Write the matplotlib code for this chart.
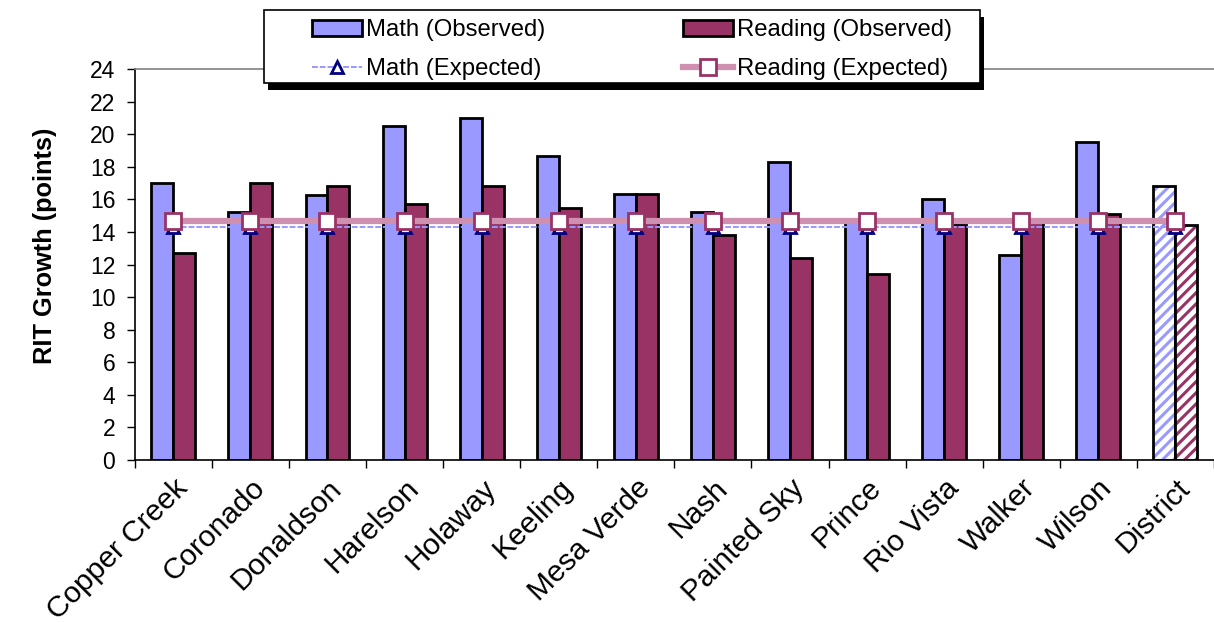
import matplotlib.pyplot as plt
import numpy as np
from matplotlib.patches import Rectangle

plt.rcParams['font.family'] = ['Liberation Sans', 'DejaVu Sans']
plt.rcParams['hatch.linewidth'] = 2.2

# RIT growth by school
schools = ['Copper Creek', 'Coronado', 'Donaldson', 'Harelson', 'Holaway', 'Keeling',
           'Mesa Verde', 'Nash', 'Painted Sky', 'Prince', 'Rio Vista', 'Walker',
           'Wilson', 'District']
math_obs = [17.0, 15.2, 16.25, 20.5, 21.0, 18.65, 16.3, 15.2, 18.3, 14.7, 16.0, 12.6, 19.5, 16.8]
read_obs = [12.7, 17.0, 16.8, 15.7, 16.8, 15.5, 16.3, 13.8, 12.4, 11.4, 14.5, 14.8, 15.1, 14.4]
math_exp = [14.3] * 14
read_exp = [14.7] * 14

math_col = '#9999ff'
read_col = '#993366'

fig = plt.figure(figsize=(12.14, 6.23), dpi=100)
ax = fig.add_axes([0.111, 0.2616, 0.889, 0.6276])

x = np.arange(len(schools))
w = 0.285
n = len(schools) - 1  # last group (District) is hatched

ax.bar(x[:n] - w / 2, math_obs[:n], w, color=math_col, edgecolor='black', linewidth=2,
       label='Math (Observed)', zorder=2)
ax.bar(x[:n] + w / 2, read_obs[:n], w, color=read_col, edgecolor='black', linewidth=2,
       label='Reading (Observed)', zorder=2)

# District bars: coloured stripes on white, black outline
ax.bar(x[n] - w / 2, math_obs[n], w, color='white', edgecolor=math_col, hatch='///',
       linewidth=0, zorder=2)
ax.bar(x[n] - w / 2, math_obs[n], w, fill=False, edgecolor='black', linewidth=2, zorder=2)
ax.bar(x[n] + w / 2, read_obs[n], w, color='white', edgecolor=read_col, hatch='///',
       linewidth=0, zorder=2)
ax.bar(x[n] + w / 2, read_obs[n], w, fill=False, edgecolor='black', linewidth=2, zorder=2)

ax.plot(x, math_exp, color='#9999ff', linestyle=(0, (3, 1)), linewidth=1.4,
        marker='^', markersize=9, markerfacecolor='white', markeredgecolor='#000080',
        markeredgewidth=2, label='Math (Expected)', zorder=3)
ax.plot(x, read_exp, color='#cf8fae', linewidth=4.5,
        marker='s', markersize=11, markerfacecolor='white', markeredgecolor=read_col,
        markeredgewidth=2, label='Reading (Expected)', zorder=4)

ax.set_xlim(-0.5, len(schools) - 0.5)
ax.set_ylim(0, 24)
ax.set_yticks(range(0, 25, 2))
ax.tick_params(axis='y', labelsize=16.5, direction='out', length=6, width=1, pad=8)
ax.set_xticks(x)
ax.set_xticklabels(schools, rotation=45, ha='right', rotation_mode='anchor', fontsize=21.5)
ax.tick_params(axis='x', length=0, pad=10)
ax.set_xticks(np.arange(-0.5, len(schools), 1), minor=True)
ax.tick_params(axis='x', which='minor', length=6, width=1, direction='out')

ax.set_ylabel('RIT Growth (points)', fontsize=18.3, fontweight='bold')
ax.yaxis.set_label_coords(-0.072, 0.547)

for s in ['left', 'bottom', 'top']:
    ax.spines[s].set_linewidth(1.2)
ax.spines['top'].set_color('#808080')
ax.spines['right'].set_visible(False)

# legend box with a dark drop shadow under it
fig.patches.append(Rectangle((0.2205, 0.8555), 0.5898, 0.1172, transform=fig.transFigure,
                             facecolor='black', edgecolor='none', zorder=5))
fig.patches.append(Rectangle((0.2175, 0.8668), 0.5898, 0.1172, transform=fig.transFigure,
                             facecolor='white', edgecolor='black', linewidth=1.2, zorder=6))

handles, labels = ax.get_legend_handles_labels()
# handles come out as lines first, then bars
leg = fig.legend([handles[2], handles[0], handles[3], handles[1]],
                 [labels[2], labels[0], labels[3], labels[1]],
                 ncol=2, loc='center', bbox_to_anchor=(0.257, 0.880, 0.527, 0.08),
                 mode='expand', fontsize=17.2, frameon=False,
                 handlelength=2.1, handletextpad=0.17, borderpad=0, borderaxespad=0,
                 labelspacing=0.72)
leg.set_zorder(7)

fig.savefig('out.png', dpi=100)
